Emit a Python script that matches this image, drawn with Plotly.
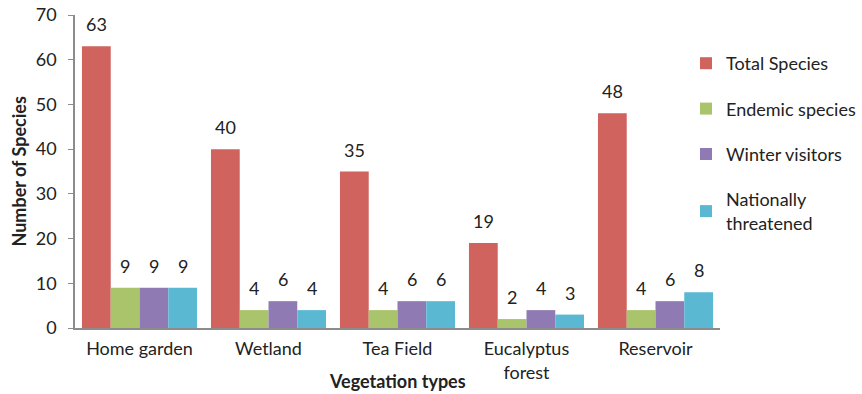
import plotly.graph_objects as go

categories = ["Home garden", "Wetland", "Tea Field", "Eucalyptus<br>forest", "Reservoir"]
total_species = [63, 40, 35, 19, 48]
endemic_species = [9, 4, 4, 2, 4]
winter_visitors = [9, 6, 6, 4, 6]
nationally_threatened = [9, 4, 6, 3, 8]

series = [
    ("Total Species", total_species, "#D0635D"),
    ("Endemic species", endemic_species, "#A9C46A"),
    ("Winter visitors", winter_visitors, "#8F7AB3"),
    ("Nationally<br>threatened", nationally_threatened, "#5BB8D3"),
]

FONT = "Lato"
FS = 18
TXT = "#222"
W, H = 862, 394
L, R, T, B = 75, 720, 15, 328
BARGAP = 0.108

fig = go.Figure()
for i, (name, vals, color) in enumerate(series):
    fig.add_trace(go.Bar(
        x=categories, y=vals, name=name, marker_color=color,
        marker_line_width=0, cliponaxis=False, legendgroup=f"g{i}",
    ))

# value labels above bars
bar_w = (R - L) / len(categories) * (1 - BARGAP) / len(series)
annotations = []
for i, (name, vals, color) in enumerate(series):
    dx = (i - (len(series) - 1) / 2) * bar_w
    for c, v in zip(categories, vals):
        annotations.append(dict(
            x=c, y=v, xref="x", yref="y", text=str(v), showarrow=False,
            xanchor="center", yanchor="bottom", xshift=dx, yshift=9,
            font=dict(family=FONT, size=FS, color=TXT)))

annotations += [
    dict(text="<b>Vegetation types</b>", xref="paper", yref="paper",
         x=0.5, y=(B - 381) / (B - T), xanchor="center", yanchor="middle",
         showarrow=False, font=dict(family=FONT, size=FS, color=TXT)),
    dict(text="<b>Number of Species</b>", xref="paper", yref="paper",
         x=(18 - L) / (R - L), y=0.5, xanchor="center", yanchor="middle",
         textangle=-90, showarrow=False, font=dict(family=FONT, size=FS, color=TXT)),
]

fig.update_layout(
    width=W, height=H,
    margin=dict(l=L, r=W - R, t=T, b=H - B, autoexpand=False),
    paper_bgcolor="white", plot_bgcolor="white",
    barmode="group", bargap=BARGAP, bargroupgap=0,
    font=dict(family=FONT, size=FS, color=TXT),
    legend=dict(xref="container", yref="container",
                x=686 / W, xanchor="left",
                y=(H - 45) / H, yanchor="top",
                font=dict(family=FONT, size=FS, color=TXT),
                tracegroupgap=19, traceorder="grouped", itemwidth=30,
                bgcolor="rgba(0,0,0,0)"),
    showlegend=True,
    annotations=annotations,
)
fig.update_xaxes(
    showline=True, linecolor="#8c8c8c", linewidth=1.5, ticks="",
    tickfont=dict(family=FONT, size=FS, color=TXT), automargin=False,
    ticklabelstandoff=4,
)
fig.update_yaxes(
    range=[0, 70], dtick=10, showgrid=False, zeroline=False,
    showline=True, linecolor="#8c8c8c", linewidth=1.5,
    ticks="outside", ticklen=5, tickcolor="#8c8c8c",
    tickfont=dict(family=FONT, size=FS, color=TXT), automargin=False,
    ticklabelstandoff=8,
)
fig.write_html("out.html")
